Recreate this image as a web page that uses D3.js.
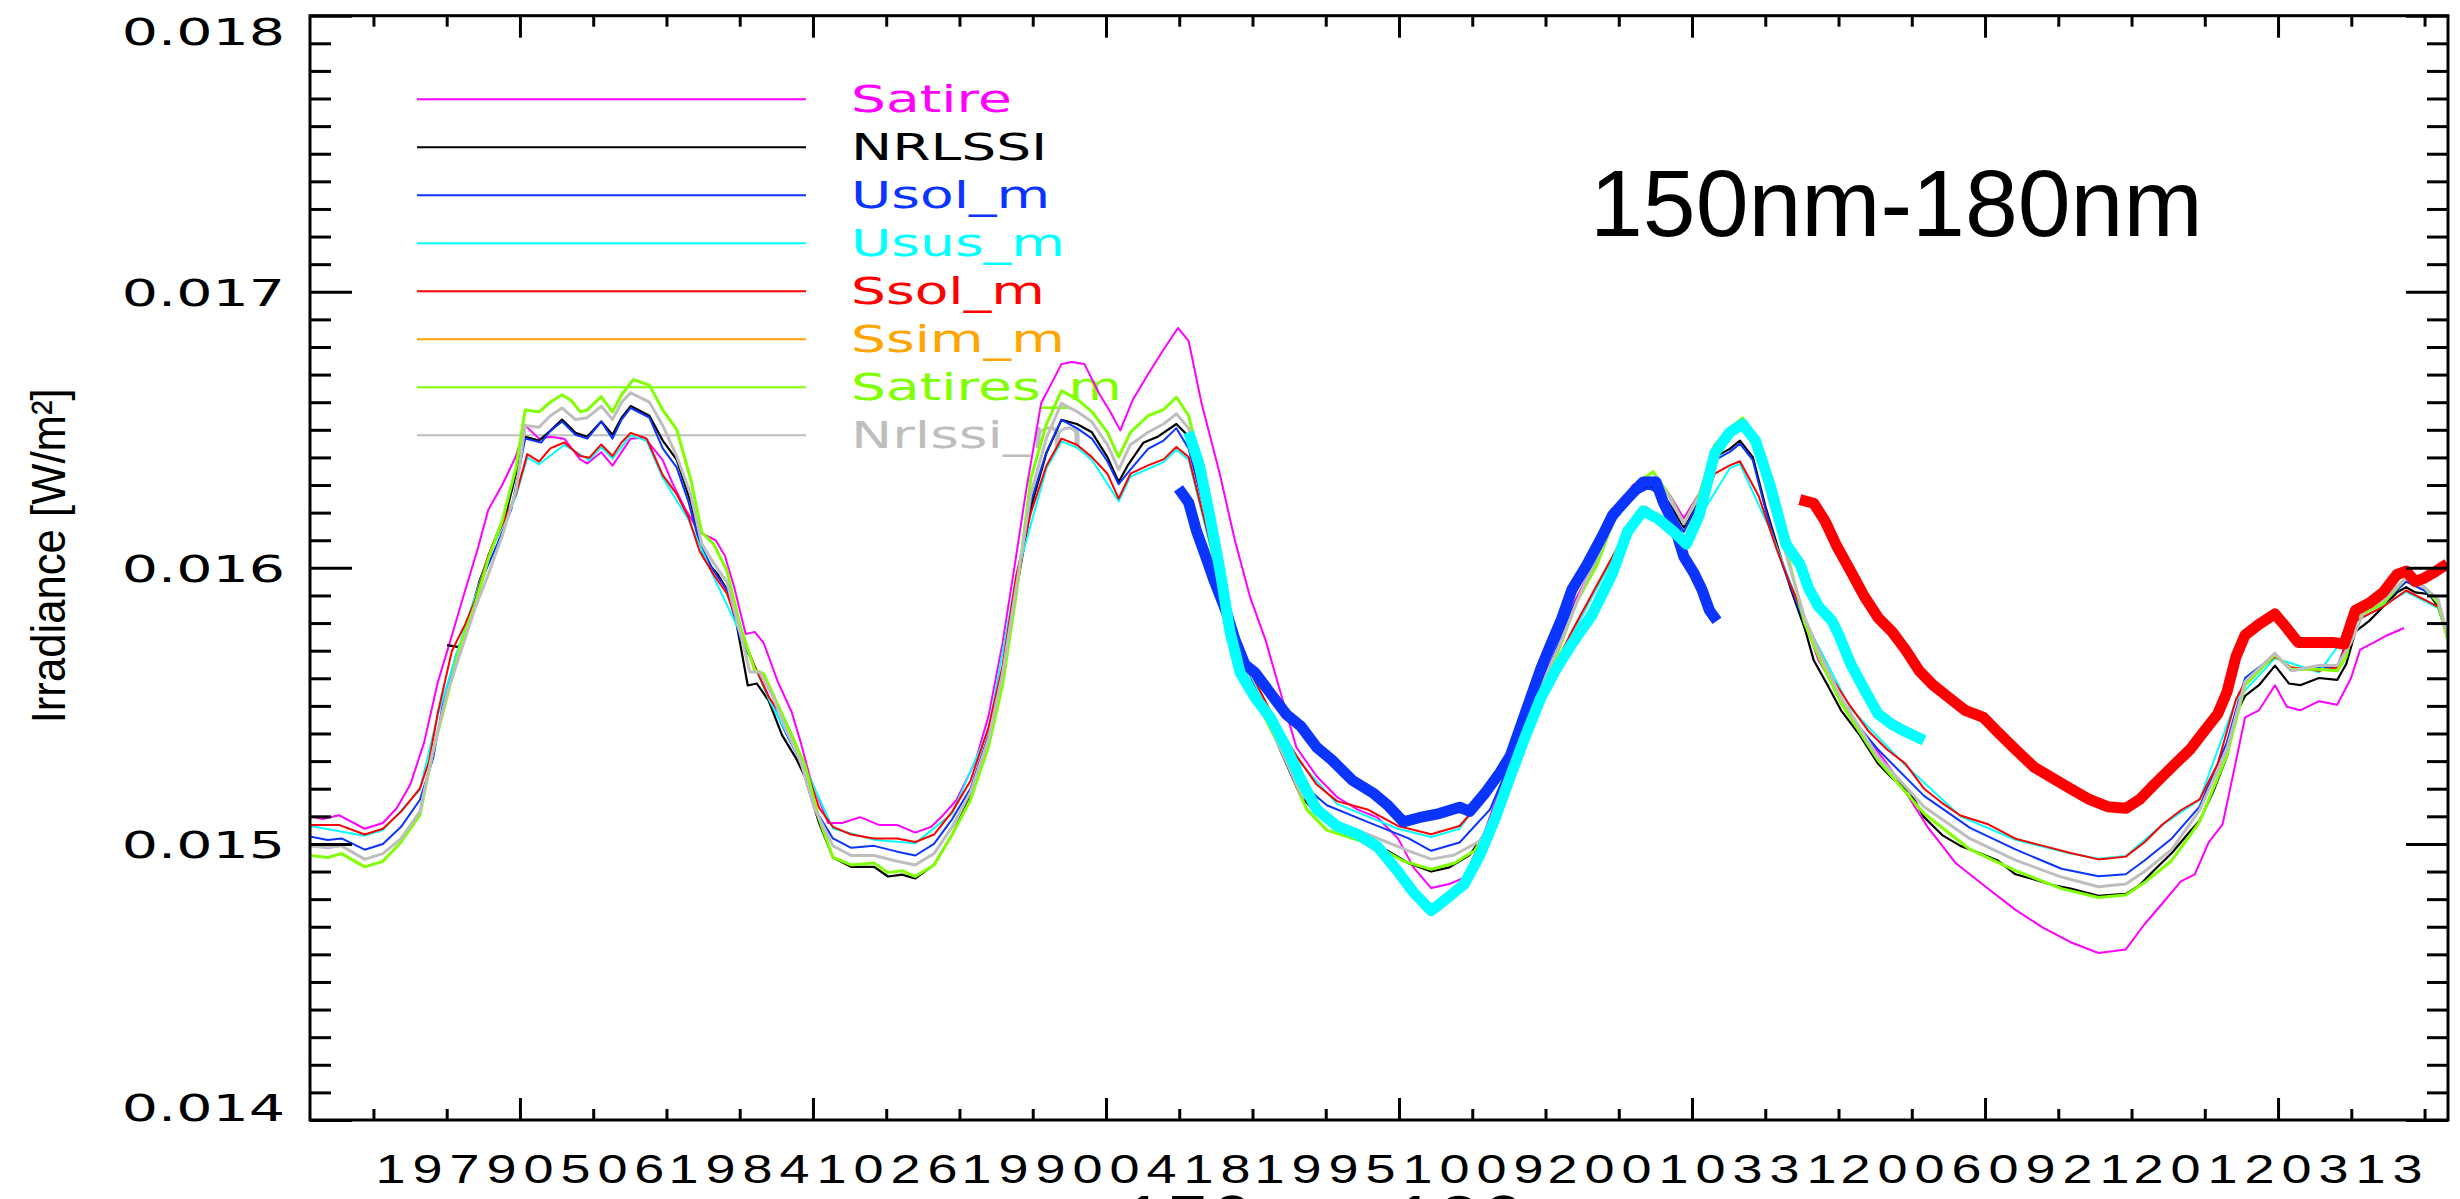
<!DOCTYPE html>
<html><head><meta charset="utf-8">
<script src="https://cdn.jsdelivr.net/npm/d3@7"></script>
<style>html,body{margin:0;padding:0;background:#fff;overflow:hidden}svg{display:block}</style>
</head><body>
<svg id="chart" width="2460" height="1199"></svg>
<script>
// ---------------- DATA (x: decimal year, y: irradiance in 1e-5 W/m^2) ----------------
const UNIT = 1e-5;
const xTickLabels = ["19790506","19841026","19900418","19951009","20010331","20060921","20120313"];
const yTickValues = [0.014, 0.015, 0.016, 0.017, 0.018];
const seriesNames = ["Satire","NRLSSI","Usol_m","Usus_m","Ssol_m","Ssim_m","Satires_m","Nrlssi_m"];
const seriesColors = ["#ff00ff","#000000","#0a34ff","#00ffff","#ff0000","#ffa500","#7fff00","#bebebe"];
const titleText = "150nm-180nm";
const yTitle = "Irradiance [W/m\u00b2]";

const satire = [[1975.41,1510.1],[1975.66,1509.0],[1975.96,1510.4],[1976.44,1505.5],[1976.78,1507.6],[1977.04,1513.0],[1977.29,1521.4],[1977.55,1536.7],[1977.81,1558.8],[1978.07,1575.5],[1978.32,1592.0],[1978.54,1606.0],[1978.75,1621.0],[1979.01,1630.0],[1979.27,1640.5],[1979.44,1651.6],[1979.70,1646.8],[1979.91,1647.5],[1980.17,1646.8],[1980.47,1639.2],[1980.60,1637.8],[1980.86,1641.9],[1981.07,1637.0],[1981.24,1641.9],[1981.41,1646.8],[1981.67,1647.2],[1982.01,1639.0],[1982.19,1630.8],[1982.44,1621.0],[1982.70,1612.8],[1983.00,1610.0],[1983.17,1604.5],[1983.34,1593.5],[1983.56,1576.0],[1983.73,1576.8],[1983.90,1572.7],[1984.16,1558.8],[1984.42,1547.8],[1984.59,1536.7],[1984.76,1524.2],[1985.10,1507.6],[1985.36,1507.6],[1985.70,1509.7],[1986.05,1506.9],[1986.39,1506.9],[1986.73,1504.1],[1987.03,1506.2],[1987.25,1510.4],[1987.50,1515.9],[1987.85,1529.7],[1988.10,1546.4],[1988.36,1572.7],[1988.62,1605.0],[1988.80,1628.0],[1989.08,1659.6],[1989.46,1673.8],[1989.65,1674.6],[1989.89,1673.8],[1990.18,1662.6],[1990.37,1656.6],[1990.56,1649.8],[1990.80,1661.1],[1991.08,1670.1],[1991.37,1679.1],[1991.64,1686.9],[1991.84,1682.1],[1992.08,1659.6],[1992.42,1634.1],[1992.70,1610.1],[1992.99,1589.1],[1993.27,1574.1],[1993.56,1554.5],[1993.85,1535.0],[1994.23,1524.5],[1994.61,1517.0],[1994.99,1512.5],[1995.37,1509.5],[1995.75,1502.0],[1996.04,1491.5],[1996.37,1484.0],[1996.71,1485.5],[1996.99,1487.8],[1997.38,1505.0],[1997.85,1531.0],[1998.23,1552.0],[1998.61,1566.0],[1999.00,1586.0],[1999.38,1600.0],[1999.76,1619.0],[2000.14,1630.0],[2000.43,1633.0],[2000.62,1630.0],[2000.81,1627.0],[2001.09,1618.0],[2001.38,1627.0],[2001.67,1644.0],[2001.95,1650.0],[2002.14,1653.0],[2002.43,1646.0],[2002.71,1624.0],[2003.00,1606.0],[2003.35,1580.8],[2003.61,1566.5],[2004.29,1544.6],[2004.98,1526.5],[2005.66,1505.8],[2006.18,1492.9],[2006.69,1485.1],[2007.29,1476.1],[2007.81,1469.6],[2008.32,1464.4],[2008.84,1460.5],[2009.35,1461.8],[2009.70,1470.9],[2010.04,1478.6],[2010.38,1486.4],[2010.64,1489.0],[2010.90,1500.6],[2011.16,1507.1],[2011.33,1522.6],[2011.58,1545.8],[2011.84,1548.4],[2012.14,1557.5],[2012.36,1549.7],[2012.61,1548.4],[2012.96,1551.7],[2013.30,1550.4],[2013.56,1560.1],[2013.73,1570.4],[2013.99,1573.0],[2014.24,1575.6],[2014.55,1578.2]];

const nrlssi = [[1977.98,1572.0],[1978.20,1571.3],[1978.32,1576.8],[1978.58,1594.8],[1978.84,1608.7],[1979.10,1621.1],[1979.44,1647.5],[1979.70,1646.1],[1979.91,1649.6],[1980.13,1653.7],[1980.38,1648.9],[1980.60,1647.5],[1980.86,1653.0],[1981.07,1648.2],[1981.24,1654.4],[1981.41,1658.6],[1981.76,1655.1],[1982.01,1646.1],[1982.27,1639.2],[1982.53,1624.0],[1982.79,1603.2],[1983.04,1597.6],[1983.30,1589.3],[1983.47,1571.3],[1983.60,1557.4],[1983.77,1558.1],[1983.99,1551.9],[1984.24,1539.4],[1984.50,1531.1],[1984.67,1524.2],[1984.93,1507.6],[1985.19,1495.1],[1985.53,1491.7],[1985.96,1491.7],[1986.22,1488.2],[1986.48,1488.9],[1986.73,1487.5],[1987.08,1492.4],[1987.42,1503.4],[1987.76,1517.3],[1988.10,1536.7],[1988.36,1558.8],[1988.62,1592.0],[1988.89,1622.0],[1989.18,1641.6],[1989.46,1653.6],[1989.75,1652.1],[1990.03,1649.1],[1990.32,1640.1],[1990.53,1631.1],[1990.70,1637.1],[1990.99,1645.3],[1991.27,1647.6],[1991.61,1652.1],[1991.84,1647.6],[1992.13,1622.0],[1992.42,1599.6],[1992.70,1572.5],[1992.99,1559.0],[1993.27,1547.0],[1993.56,1533.5],[1993.94,1517.0],[1994.32,1509.5],[1994.71,1505.0],[1995.18,1500.5],[1995.56,1497.5],[1995.95,1493.0],[1996.37,1490.0],[1996.71,1491.5],[1997.09,1496.0],[1997.47,1506.5],[1997.85,1527.5],[1998.23,1550.0],[1998.61,1565.0],[1999.00,1584.6],[1999.38,1598.1],[1999.76,1616.1],[2000.14,1626.6],[2000.43,1629.6],[2000.62,1628.1],[2000.81,1623.6],[2001.09,1614.6],[2001.38,1625.1],[2001.67,1640.1],[2001.95,1643.1],[2002.14,1646.1],[2002.38,1640.1],[2002.62,1622.0],[2002.90,1604.1],[2003.09,1592.4],[2003.35,1578.2],[2003.52,1566.5],[2003.78,1557.5],[2004.03,1548.4],[2004.38,1539.4],[2004.72,1529.1],[2004.98,1523.9],[2005.32,1518.7],[2005.58,1509.7],[2005.92,1503.2],[2006.26,1499.3],[2006.61,1496.7],[2006.95,1494.1],[2007.29,1489.0],[2007.64,1487.1],[2007.98,1485.1],[2008.32,1483.8],[2008.84,1481.2],[2009.35,1481.9],[2009.61,1485.1],[2009.87,1490.3],[2010.21,1496.7],[2010.55,1504.5],[2010.73,1508.4],[2010.98,1518.7],[2011.24,1531.6],[2011.41,1547.1],[2011.58,1553.6],[2011.84,1557.5],[2012.14,1564.6],[2012.40,1558.1],[2012.61,1557.5],[2012.96,1560.1],[2013.30,1559.4],[2013.47,1565.2],[2013.64,1576.9],[2013.90,1580.8],[2014.16,1585.9],[2014.42,1591.1],[2014.59,1593.0],[2014.76,1591.1],[2015.02,1590.5],[2015.19,1585.9],[2015.36,1575.0]];

const usolM = [[1975.41,1502.7],[1975.75,1501.4],[1976.01,1502.0],[1976.44,1497.9],[1976.78,1500.0],[1977.12,1506.2],[1977.47,1515.9],[1977.72,1531.1],[1977.90,1550.5],[1978.15,1568.5],[1978.41,1581.0],[1978.67,1597.6],[1978.92,1608.7],[1979.18,1621.1],[1979.44,1646.8],[1979.74,1645.4],[1979.91,1649.6],[1980.13,1653.0],[1980.38,1648.2],[1980.60,1646.8],[1980.86,1653.0],[1981.07,1646.8],[1981.24,1653.7],[1981.41,1657.9],[1981.76,1654.4],[1982.01,1643.3],[1982.27,1636.4],[1982.49,1624.0],[1982.70,1608.7],[1982.96,1599.0],[1983.21,1592.0],[1983.47,1574.0],[1983.73,1564.4],[1983.99,1553.3],[1984.33,1539.4],[1984.59,1529.7],[1984.84,1513.1],[1985.19,1502.0],[1985.53,1498.6],[1985.96,1499.3],[1986.39,1497.2],[1986.73,1495.8],[1987.08,1500.0],[1987.42,1509.0],[1987.76,1520.0],[1988.10,1539.4],[1988.36,1561.6],[1988.62,1594.8],[1988.89,1624.0],[1989.18,1642.0],[1989.46,1653.6],[1989.75,1650.6],[1990.03,1646.8],[1990.32,1638.6],[1990.53,1630.3],[1990.75,1635.6],[1991.08,1643.1],[1991.37,1646.1],[1991.61,1650.6],[1991.84,1643.1],[1992.13,1621.0],[1992.42,1599.0],[1992.70,1573.0],[1992.99,1560.0],[1993.27,1549.0],[1993.56,1537.0],[1993.94,1522.0],[1994.42,1514.0],[1995.18,1508.0],[1995.95,1502.0],[1996.37,1497.5],[1996.90,1500.5],[1997.47,1512.5],[1997.85,1530.0],[1998.23,1552.0],[1998.61,1566.0],[1999.00,1585.0],[1999.38,1598.0],[1999.76,1616.0],[2000.14,1626.0],[2000.43,1629.0],[2000.62,1627.0],[2000.81,1622.0],[2001.09,1613.0],[2001.38,1624.0],[2001.67,1639.0],[2001.95,1642.0],[2002.14,1645.0],[2002.38,1639.0],[2002.62,1621.0],[2002.90,1603.0],[2003.09,1593.0],[2003.35,1580.0],[2003.61,1568.0],[2004.03,1551.0],[2004.38,1542.0],[2004.72,1534.2],[2005.58,1517.4],[2006.44,1505.8],[2007.29,1498.0],[2008.15,1491.0],[2008.84,1488.3],[2009.35,1489.0],[2009.70,1494.0],[2010.21,1502.0],[2010.73,1513.5],[2011.24,1536.8],[2011.58,1560.1],[2012.14,1568.5],[2012.44,1562.7],[2012.96,1564.0],[2013.30,1564.0],[2013.64,1582.0],[2014.16,1587.2],[2014.59,1595.0],[2014.93,1591.8],[2015.19,1587.2],[2015.36,1575.0]];

const ususM = [[1975.41,1506.5],[1976.44,1503.0],[1976.78,1505.0],[1977.47,1519.5],[1977.81,1547.0],[1978.32,1579.0],[1978.75,1604.0],[1979.27,1626.0],[1979.48,1640.0],[1979.70,1637.5],[1980.17,1644.5],[1980.64,1639.0],[1980.86,1643.8],[1981.07,1639.6],[1981.41,1648.0],[1981.71,1646.0],[1982.01,1632.6],[1982.49,1617.5],[1982.96,1596.8],[1983.47,1576.0],[1983.99,1552.5],[1984.67,1527.6],[1985.19,1505.6],[1985.96,1501.5],[1986.73,1500.2],[1987.42,1511.0],[1988.10,1541.5],[1988.62,1597.0],[1989.18,1636.0],[1989.46,1645.8],[1989.75,1643.6],[1990.03,1639.1],[1990.53,1624.1],[1990.75,1633.1],[1991.37,1638.3],[1991.61,1642.8],[1991.84,1639.1],[1992.42,1594.1],[1993.08,1558.0],[1993.85,1531.0],[1994.61,1514.5],[1995.75,1505.5],[1996.37,1502.5],[1996.90,1505.5],[1997.85,1531.0],[1998.61,1561.0],[1999.38,1589.6],[2000.14,1616.6],[2000.38,1621.1],[2000.71,1616.6],[2001.09,1609.1],[2001.38,1618.1],[2001.95,1636.1],[2002.14,1637.6],[2002.71,1613.6],[2003.35,1581.0],[2004.21,1549.0],[2005.23,1528.5],[2006.26,1510.0],[2007.29,1501.5],[2008.32,1496.5],[2008.84,1494.6],[2009.35,1495.6],[2010.04,1507.0],[2010.73,1516.0],[2011.41,1552.0],[2012.14,1567.3],[2012.96,1562.2],[2013.64,1580.3],[2014.59,1591.3],[2015.19,1585.4],[2015.36,1575.2]];

const ssolM = [[1975.41,1506.9],[1975.96,1506.9],[1976.44,1503.4],[1976.78,1505.5],[1977.12,1511.7],[1977.47,1520.0],[1977.64,1529.7],[1977.81,1547.8],[1978.07,1569.9],[1978.32,1579.6],[1978.50,1588.0],[1978.75,1604.5],[1979.01,1615.6],[1979.27,1626.7],[1979.48,1641.2],[1979.70,1638.5],[1979.91,1643.3],[1980.17,1645.4],[1980.47,1640.5],[1980.64,1639.9],[1980.86,1644.7],[1981.07,1640.5],[1981.24,1645.4],[1981.41,1648.9],[1981.71,1646.8],[1982.01,1633.6],[1982.27,1626.7],[1982.49,1618.4],[1982.70,1606.0],[1982.96,1597.6],[1983.21,1590.7],[1983.47,1576.8],[1983.73,1564.4],[1983.99,1553.3],[1984.33,1543.6],[1984.67,1528.4],[1984.93,1513.1],[1985.19,1506.2],[1985.53,1503.4],[1985.96,1502.0],[1986.39,1502.0],[1986.73,1500.7],[1987.08,1503.4],[1987.42,1511.7],[1987.76,1522.8],[1988.10,1542.2],[1988.36,1564.4],[1988.62,1597.6],[1988.89,1620.0],[1989.18,1637.0],[1989.46,1646.8],[1989.75,1644.6],[1990.03,1640.1],[1990.32,1634.1],[1990.53,1625.1],[1990.75,1634.1],[1991.08,1637.1],[1991.37,1639.3],[1991.61,1643.8],[1991.84,1640.1],[1992.13,1617.6],[1992.42,1595.1],[1992.70,1574.1],[1993.08,1559.0],[1993.47,1544.0],[1993.85,1532.0],[1994.23,1521.5],[1994.61,1515.5],[1995.18,1512.5],[1995.75,1506.5],[1996.37,1503.5],[1996.90,1506.5],[1997.38,1517.0],[1997.85,1532.0],[1998.23,1550.0],[1998.61,1562.0],[1999.00,1577.0],[1999.38,1590.6],[1999.76,1604.1],[2000.14,1617.6],[2000.38,1622.1],[2000.71,1617.6],[2001.09,1610.1],[2001.38,1619.1],[2001.67,1634.1],[2001.95,1637.1],[2002.14,1638.6],[2002.49,1626.0],[2002.83,1606.6],[2003.09,1593.7],[2003.35,1582.0],[2003.61,1570.4],[2003.86,1560.1],[2004.21,1549.7],[2004.55,1540.7],[2004.89,1534.2],[2005.23,1529.1],[2005.58,1520.0],[2005.92,1514.8],[2006.26,1510.3],[2006.78,1507.1],[2007.29,1501.9],[2007.81,1499.3],[2008.32,1496.7],[2008.84,1494.4],[2009.35,1495.4],[2009.70,1500.6],[2010.04,1507.1],[2010.38,1512.2],[2010.73,1516.1],[2011.07,1529.1],[2011.41,1552.3],[2011.58,1558.8],[2012.14,1567.8],[2012.44,1564.0],[2012.96,1562.7],[2013.30,1564.0],[2013.64,1580.8],[2014.16,1585.9],[2014.59,1591.8],[2014.93,1588.5],[2015.19,1585.9],[2015.36,1575.6]];

const ssimM = []; // Ssim_m: listed in the legend, no curve visible in the reference

const satiresM = [[1975.41,1495.8],[1975.75,1495.1],[1976.01,1496.5],[1976.44,1491.7],[1976.78,1493.7],[1977.12,1500.7],[1977.47,1510.4],[1977.72,1533.9],[1977.98,1553.3],[1978.24,1572.7],[1978.50,1586.5],[1978.75,1603.2],[1979.01,1617.0],[1979.27,1636.4],[1979.44,1657.2],[1979.70,1656.5],[1979.91,1660.0],[1980.13,1662.7],[1980.30,1660.6],[1980.47,1656.5],[1980.60,1657.2],[1980.86,1662.0],[1981.07,1656.5],[1981.24,1662.7],[1981.46,1668.2],[1981.76,1666.2],[1982.01,1657.2],[1982.27,1650.2],[1982.53,1632.3],[1982.74,1612.8],[1982.96,1608.7],[1983.21,1599.0],[1983.47,1578.2],[1983.73,1563.0],[1983.90,1561.6],[1984.16,1550.5],[1984.42,1539.4],[1984.67,1528.4],[1984.93,1509.0],[1985.19,1495.1],[1985.53,1492.4],[1985.96,1493.1],[1986.22,1489.6],[1986.48,1490.3],[1986.73,1488.2],[1987.08,1492.4],[1987.42,1503.4],[1987.76,1515.9],[1988.10,1535.3],[1988.36,1557.4],[1988.62,1590.7],[1988.89,1632.6],[1989.18,1652.1],[1989.46,1664.1],[1989.75,1661.1],[1990.03,1656.6],[1990.32,1649.1],[1990.53,1640.1],[1990.75,1649.1],[1991.08,1655.1],[1991.37,1657.3],[1991.61,1661.8],[1991.84,1655.1],[1992.13,1631.1],[1992.42,1604.1],[1992.70,1572.5],[1992.99,1557.5],[1993.27,1545.5],[1993.66,1530.5],[1994.04,1512.5],[1994.42,1505.0],[1994.90,1502.0],[1995.37,1499.0],[1995.85,1493.8],[1996.37,1490.8],[1996.80,1493.0],[1997.18,1497.5],[1997.57,1509.5],[1997.95,1532.0],[1998.33,1553.0],[1998.71,1568.0],[1999.09,1587.6],[1999.47,1601.1],[1999.85,1620.6],[2000.24,1631.1],[2000.52,1634.8],[2000.81,1626.6],[2001.09,1616.1],[2001.38,1626.6],[2001.67,1644.6],[2001.95,1650.6],[2002.19,1654.3],[2002.43,1647.6],[2002.71,1625.1],[2003.00,1607.1],[2003.35,1580.0],[2003.61,1568.0],[2004.03,1551.0],[2004.72,1530.3],[2005.58,1511.0],[2006.44,1498.0],[2007.29,1490.3],[2008.15,1483.8],[2008.84,1480.6],[2009.35,1481.5],[2009.70,1486.0],[2010.21,1494.0],[2010.73,1508.0],[2011.24,1532.0],[2011.58,1557.5],[2012.14,1568.5],[2012.44,1563.3],[2012.96,1563.3],[2013.30,1562.7],[2013.47,1567.8],[2013.64,1582.0],[2014.16,1587.2],[2014.59,1596.3],[2014.93,1593.0],[2015.19,1587.2],[2015.36,1574.3]];

const nrlssiM = [[1975.41,1499.3],[1975.75,1498.6],[1976.01,1499.3],[1976.44,1494.4],[1976.78,1496.5],[1977.12,1502.0],[1977.47,1511.7],[1977.72,1533.9],[1977.98,1554.7],[1978.24,1569.9],[1978.50,1585.2],[1978.75,1597.6],[1979.01,1611.5],[1979.27,1628.1],[1979.44,1651.6],[1979.70,1650.9],[1979.91,1655.1],[1980.13,1657.9],[1980.38,1653.7],[1980.60,1654.4],[1980.86,1658.6],[1981.07,1653.7],[1981.24,1660.0],[1981.41,1663.4],[1981.76,1660.0],[1982.01,1651.6],[1982.27,1640.5],[1982.53,1626.7],[1982.74,1608.7],[1982.96,1601.8],[1983.21,1594.8],[1983.47,1575.5],[1983.64,1562.3],[1983.82,1562.3],[1984.07,1553.3],[1984.33,1540.8],[1984.59,1529.7],[1984.84,1513.1],[1985.19,1499.3],[1985.53,1495.8],[1985.96,1495.8],[1986.39,1493.7],[1986.73,1492.4],[1987.08,1496.5],[1987.42,1506.2],[1987.76,1518.7],[1988.10,1538.1],[1988.36,1561.6],[1988.62,1593.4],[1988.89,1627.0],[1989.18,1647.0],[1989.46,1659.6],[1989.75,1656.6],[1990.03,1652.9],[1990.32,1644.6],[1990.53,1635.6],[1990.75,1644.6],[1991.08,1649.1],[1991.37,1652.1],[1991.61,1655.8],[1991.84,1650.6],[1992.13,1627.0],[1992.42,1602.0],[1992.70,1573.0],[1992.99,1559.0],[1993.27,1547.0],[1993.56,1534.0],[1993.94,1518.0],[1994.42,1509.5],[1995.18,1503.5],[1995.95,1497.5],[1996.37,1494.5],[1996.80,1496.0],[1997.28,1501.0],[1997.66,1512.0],[1998.04,1535.0],[1998.42,1557.0],[1998.81,1574.0],[1999.19,1592.0],[1999.57,1608.0],[1999.95,1623.0],[2000.33,1631.0],[2000.57,1633.0],[2000.81,1626.0],[2001.09,1616.0],[2001.38,1626.0],[2001.67,1643.0],[2001.95,1648.0],[2002.14,1652.0],[2002.43,1645.0],[2002.71,1623.0],[2003.00,1605.0],[2003.35,1582.0],[2003.61,1570.0],[2004.03,1553.0],[2004.72,1531.6],[2005.58,1513.5],[2006.44,1501.9],[2007.29,1494.1],[2008.15,1488.0],[2008.84,1484.5],[2009.35,1485.5],[2009.70,1490.0],[2010.21,1498.0],[2010.73,1512.2],[2011.24,1534.2],[2011.58,1558.8],[2012.14,1569.1],[2012.44,1562.7],[2012.96,1564.6],[2013.30,1564.6],[2013.56,1573.0],[2013.81,1584.6],[2014.16,1588.5],[2014.59,1596.3],[2014.93,1593.0],[2015.19,1588.5],[2015.36,1576.0]];

// measured segments (thick)
const usolObs = [[1991.65,1628.8],[1991.84,1623.6],[1991.99,1613.1],[1992.13,1605.6],[1992.32,1595.1],[1992.56,1583.1],[1992.70,1574.1],[1992.89,1565.0],[1993.08,1562.0],[1993.37,1554.5],[1993.66,1547.0],[1993.94,1542.5],[1994.23,1535.0],[1994.51,1530.5],[1994.90,1523.0],[1995.28,1518.5],[1995.56,1514.0],[1995.85,1508.0],[1996.14,1509.5],[1996.52,1511.0],[1996.90,1513.3],[1997.09,1511.8],[1997.38,1518.5],[1997.66,1526.0],[1997.85,1532.0],[1998.04,1542.5],[1998.23,1553.0],[1998.42,1563.5],[1998.61,1572.5],[1998.81,1581.6],[1999.00,1592.1],[1999.28,1601.1],[1999.57,1611.6],[1999.76,1619.1],[2000.04,1625.1],[2000.33,1631.1],[2000.57,1631.1],[2000.71,1623.6],[2000.90,1616.1],[2001.09,1604.1],[2001.28,1598.1],[2001.43,1592.1],[2001.57,1584.6],[2001.71,1580.8]];

const ususObs = [[1991.84,1649.1],[1992.04,1637.1],[1992.23,1619.1],[1992.42,1599.6],[1992.61,1577.0],[1992.80,1562.0],[1993.08,1553.0],[1993.37,1545.5],[1993.66,1535.0],[1993.94,1523.0],[1994.23,1512.5],[1994.61,1506.5],[1994.99,1503.5],[1995.37,1499.0],[1995.75,1490.0],[1996.04,1482.5],[1996.37,1475.8],[1996.71,1481.0],[1996.99,1485.5],[1997.28,1496.0],[1997.57,1509.5],[1997.85,1524.5],[1998.14,1539.5],[1998.42,1553.0],[1998.71,1563.5],[1999.00,1572.5],[1999.38,1583.1],[1999.76,1598.1],[2000.04,1613.1],[2000.33,1620.6],[2000.62,1617.6],[2000.90,1613.1],[2001.14,1608.6],[2001.38,1619.1],[2001.67,1641.6],[2001.95,1649.1],[2002.19,1652.1],[2002.43,1646.1],[2002.71,1629.6],[2003.00,1608.6],[2003.26,1601.4],[2003.43,1592.4],[2003.61,1586.0],[2003.86,1580.8],[2003.99,1575.6],[2004.21,1565.2],[2004.46,1556.2],[2004.72,1547.1],[2004.98,1543.3],[2005.23,1540.7],[2005.58,1537.5]];

const ssolObs = [[2003.26,1624.7],[2003.52,1623.4],[2003.73,1617.0],[2003.95,1607.9],[2004.21,1598.8],[2004.46,1589.8],[2004.72,1582.0],[2004.98,1576.9],[2005.23,1570.4],[2005.49,1562.7],[2005.75,1557.5],[2006.09,1552.3],[2006.35,1548.4],[2006.69,1545.8],[2006.95,1540.7],[2007.29,1534.2],[2007.64,1527.8],[2007.98,1523.9],[2008.32,1520.0],[2008.67,1516.1],[2009.01,1513.5],[2009.35,1512.9],[2009.61,1516.1],[2009.87,1521.3],[2010.21,1527.8],[2010.55,1534.2],[2010.81,1540.7],[2011.07,1547.1],[2011.24,1554.9],[2011.41,1567.8],[2011.58,1575.6],[2011.84,1579.5],[2012.14,1583.3],[2012.36,1578.2],[2012.57,1573.0],[2012.87,1573.0],[2013.21,1573.0],[2013.43,1572.4],[2013.64,1584.6],[2013.90,1587.2],[2014.16,1591.1],[2014.42,1597.6],[2014.59,1598.8],[2014.76,1595.0],[2014.93,1596.3],[2015.15,1598.8],[2015.36,1601.4]];

// ---------------- CHART ----------------
const svg = d3.select("#chart");
const P = {left: 310, right: 2448, top: 15.7, bottom: 1120};
const parseDay = d3.utcParse("%Y%m%d");
const DAY = 86400000;

function yearToDate(t) {
  const yr = Math.floor(t);
  const a = Date.UTC(yr, 0, 1), b = Date.UTC(yr + 1, 0, 1);
  return new Date(a + (t - yr) * (b - a));
}

const x = d3.scaleUtc()
  .domain([new Date(Date.UTC(1975, 5, 3)), new Date(Date.UTC(2015, 4, 17))])
  .range([P.left, P.right]);
const y = d3.scaleLinear().domain([0.014, 0.018]).range([P.bottom, P.top]);

const majorDates = xTickLabels.map(s => parseDay(s));
const [d0, d1] = x.domain();
const minorDates = [];
{
  const step = 500 * DAY;
  let t = majorDates[0].getTime();
  while (t - step >= d0.getTime()) t -= step;
  for (; t <= d1.getTime(); t += step) {
    if (!majorDates.some(m => Math.abs(m.getTime() - t) < DAY)) minorDates.push(new Date(t));
  }
}
const yMinor = d3.range(140, 181).map(i => i / 10000).filter(v => !yTickValues.some(m => Math.abs(m - v) < 1e-9));

// Legend (drawn beneath the curves)
const leg = svg.append("g");
seriesNames.forEach((name, i) => {
  const ly = 99.3 + 48 * i;
  leg.append("line").attr("x1", 417).attr("x2", 806).attr("y1", ly).attr("y2", ly)
    .attr("stroke", seriesColors[i]).attr("stroke-width", 2);
  leg.append("text").text(name)
    .attr("transform", `translate(851,${ly + 12.5}) scale(1.45,1)`)
    .attr("font-family", "'DejaVu Sans', Verdana, sans-serif")
    .attr("font-size", 38).attr("fill", seriesColors[i]);
});

// Title
svg.append("text").text(titleText)
  .attr("x", 1590).attr("y", 236)
  .attr("font-family", "'Liberation Sans', Arial, Helvetica, sans-serif")
  .attr("font-size", 95).attr("fill", "#000");

// curves
svg.append("clipPath").attr("id", "clip").append("rect")
  .attr("x", P.left).attr("y", P.top).attr("width", P.right - P.left).attr("height", P.bottom - P.top);
const gLines = svg.append("g").attr("clip-path", "url(#clip)");
const line = d3.line().x(d => x(yearToDate(d[0]))).y(d => y(d[1] * UNIT));

const thin = [
  {data: satire, c: 0, w: 2},
  {data: nrlssi, c: 1, w: 2.2},
  {data: usolM, c: 2, w: 2},
  {data: ususM, c: 3, w: 2},
  {data: ssolM, c: 4, w: 2},
  {data: ssimM, c: 5, w: 2},
  {data: satiresM, c: 6, w: 3},
  {data: nrlssiM, c: 7, w: 3}
];
thin.forEach(s => {
  if (!s.data.length) return;
  gLines.append("path").attr("d", line(s.data)).attr("fill", "none")
    .attr("stroke", seriesColors[s.c]).attr("stroke-width", s.w)
    .attr("stroke-linejoin", "round");
});
[{data: usolObs, c: 2}, {data: ususObs, c: 3}, {data: ssolObs, c: 4}].forEach(s => {
  gLines.append("path").attr("d", line(s.data)).attr("fill", "none")
    .attr("stroke", seriesColors[s.c]).attr("stroke-width", 11)
    .attr("stroke-linejoin", "round").attr("stroke-linecap", "butt");
});

// axes (ticks only; frame drawn as rect)
function styleAxis(g) {
  g.select(".domain").remove();
  g.selectAll(".tick line").attr("stroke", "#000").attr("stroke-width", 3);
  g.selectAll(".tick text").remove();
}
svg.append("g").attr("transform", `translate(0,${P.bottom})`)
  .call(d3.axisBottom(x).tickValues(majorDates).tickSize(-22).tickSizeOuter(0)).call(styleAxis);
svg.append("g").attr("transform", `translate(0,${P.bottom})`)
  .call(d3.axisBottom(x).tickValues(minorDates).tickSize(-11).tickSizeOuter(0)).call(styleAxis);
svg.append("g").attr("transform", `translate(0,${P.top})`)
  .call(d3.axisTop(x).tickValues(majorDates).tickSize(-22).tickSizeOuter(0)).call(styleAxis);
svg.append("g").attr("transform", `translate(0,${P.top})`)
  .call(d3.axisTop(x).tickValues(minorDates).tickSize(-11).tickSizeOuter(0)).call(styleAxis);
svg.append("g").attr("transform", `translate(${P.left},0)`)
  .call(d3.axisLeft(y).tickValues(yTickValues).tickSize(-42).tickSizeOuter(0)).call(styleAxis);
svg.append("g").attr("transform", `translate(${P.left},0)`)
  .call(d3.axisLeft(y).tickValues(yMinor).tickSize(-21).tickSizeOuter(0)).call(styleAxis);
svg.append("g").attr("transform", `translate(${P.right},0)`)
  .call(d3.axisRight(y).tickValues(yTickValues).tickSize(-42).tickSizeOuter(0)).call(styleAxis);
svg.append("g").attr("transform", `translate(${P.right},0)`)
  .call(d3.axisRight(y).tickValues(yMinor).tickSize(-21).tickSizeOuter(0)).call(styleAxis);

svg.append("rect").attr("x", P.left).attr("y", P.top)
  .attr("width", P.right - P.left).attr("height", P.bottom - P.top)
  .attr("fill", "none").attr("stroke", "#000").attr("stroke-width", 3);

// x tick labels (wide, spaced digits filling each 2000-day interval)
svg.append("g").selectAll("text").data(majorDates).join("text")
  .text((d, i) => xTickLabels[i])
  .attr("transform", d => `translate(${x(d)},1183) scale(1.35,1)`)
  .attr("text-anchor", "middle")
  .attr("textLength", 214).attr("lengthAdjust", "spacing")
  .attr("font-family", "'Liberation Sans', Arial, Helvetica, sans-serif")
  .attr("font-size", 40).attr("fill", "#000");

// y tick labels
const fmt = d3.format(".3f");
svg.append("g").selectAll("text").data(yTickValues).join("text")
  .text(d => fmt(d))
  .attr("transform", d => {
    const c = Math.max(P.top + 15.5, Math.min(P.bottom - 13, y(d)));
    return `translate(285,${c + 14}) scale(1.5,1)`;
  })
  .attr("text-anchor", "end")
  .attr("font-family", "'DejaVu Sans', Verdana, sans-serif")
  .attr("font-size", 38).attr("fill", "#000");

// axis titles
svg.append("text").text(yTitle)
  .attr("transform", `translate(65,${(P.top + P.bottom) / 2 - 12}) rotate(-90)`)
  .attr("text-anchor", "middle")
  .attr("textLength", 335).attr("lengthAdjust", "spacingAndGlyphs")
  .attr("font-family", "'Liberation Sans', Arial, Helvetica, sans-serif")
  .attr("font-size", 48).attr("fill", "#000");
svg.append("text").text(titleText)
  .attr("x", (P.left + P.right) / 2).attr("y", 1251)
  .attr("text-anchor", "middle")
  .attr("font-family", "'Liberation Sans', Arial, Helvetica, sans-serif")
  .attr("font-size", 80).attr("fill", "#000");
</script>
</body></html>
